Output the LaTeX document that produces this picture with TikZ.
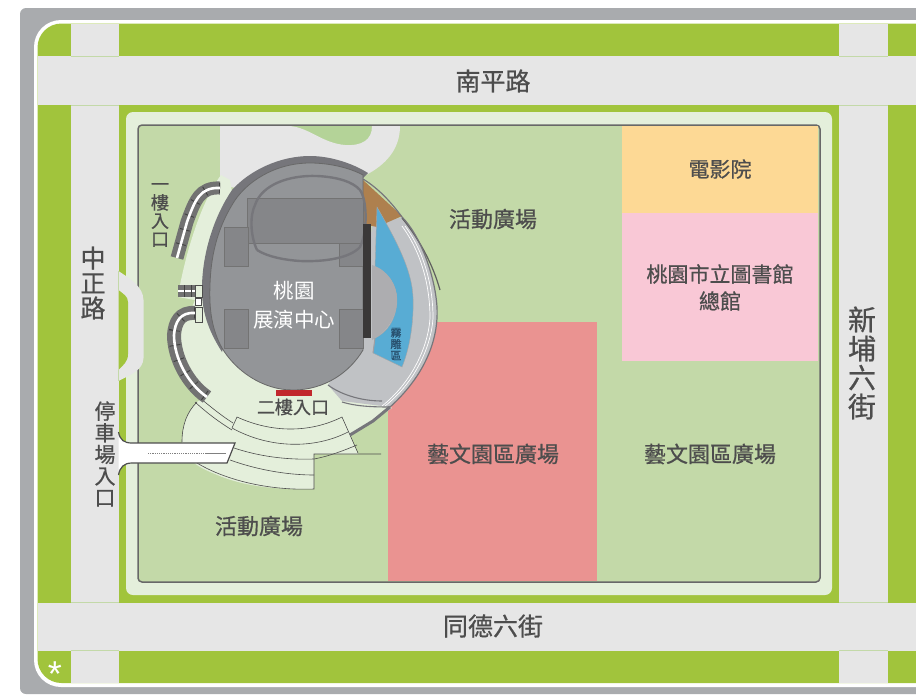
\documentclass[tikz,border=0pt]{standalone}
\usepackage{fontspec}
\setmainfont{Liberation Sans}
\newfontfamily\cjk[FakeBold=0.7]{Noto Sans CJK TC}
\newfontfamily\cjkw{Noto Sans CJK TC}
\definecolor{frame}{HTML}{A9ABAE}
\definecolor{grass}{HTML}{A1C43C}
\definecolor{road}{HTML}{E6E6E6}
\definecolor{site}{HTML}{E4EFDB}
\definecolor{lawn}{HTML}{C3D9A8}
\definecolor{lawndk}{HTML}{B4D398}
\definecolor{hall}{HTML}{939598}
\definecolor{halldk}{HTML}{76767B}
\definecolor{block}{HTML}{858689}
\definecolor{fan}{HTML}{C0C2C5}
\definecolor{labeltx}{HTML}{4D4D4D}
\definecolor{stairg}{HTML}{727272}
\definecolor{cinemac}{HTML}{FDD995}
\definecolor{libc}{HTML}{F9C8D6}
\definecolor{artc}{HTML}{EA9391}
\definecolor{brownc}{HTML}{AE804E}
\definecolor{bluec}{HTML}{58ACD4}
\definecolor{domec}{HTML}{ADADB0}
\definecolor{barc}{HTML}{3A3838}
\definecolor{redc}{HTML}{C1272D}
\definecolor{fogc}{HTML}{28506E}
\tikzset{
  x=1pt,y=-1pt,
  lbl/.style={font=\cjk\fontsize{#1}{#1}\selectfont,text=labeltx,inner sep=0pt,align=center},
  vlbl/.style 2 args={font=\cjk\fontsize{#1}{#2}\selectfont,text=labeltx,inner sep=0pt,align=center},
  wlbl/.style={font=\cjkw\fontsize{#1}{29}\selectfont,text=white,inner sep=0pt,align=center},
  thinarc/.style={draw=labeltx,line width=.6pt},
  stairband/.style={line width=#1,draw=stairg},
  stairtick/.style={line width=#1,draw=black!75,dash pattern=on .9pt off 14pt},
  stairmid/.style={line width=2.6pt,draw=white},
  blockbox/.style={fill=block,draw=gray!90!black,line width=.3pt},
  seam/.style={draw=lawn,line width=.5pt},
}
\begin{document}
\begin{tikzpicture}
\useasboundingbox (0,0) rectangle (916,694);
\clip (0,0) rectangle (916,694);
\fill[white] (0,0) rectangle (916,694);
% frame
\fill[frame,rounded corners=6pt] (20,8) rectangle (960,694);
\fill[white,rounded corners=27pt] (34,20) rectangle (980,687);
\fill[grass,rounded corners=24pt] (37.5,23.5) rectangle (980,683);
% roads
\fill[road] (70.5,23.5) rectangle (118.5,683);
\fill[road] (839,23.5) rectangle (888,683);
\fill[road] (37.5,56) rectangle (916,105);
\fill[road] (37.5,602.5) rectangle (916,650.5);
\draw[seam] (70.5,56) -- (118.5,56) (70.5,105) -- (118.5,105) (70.5,602.5) -- (118.5,602.5) (70.5,650.5) -- (118.5,650.5);
\draw[seam] (839,56) -- (888,56) (839,105) -- (888,105) (839,602.5) -- (888,602.5) (839,650.5) -- (888,650.5);
% site
\fill[site,rounded corners=7pt] (126,112) rectangle (832,595);
\filldraw[fill=lawn,draw=labeltx!85,line width=1.5pt,rounded corners=4pt] (138,125) rectangle (820,582);
% road bulge
\fill[road] (118.5,271) .. controls (132,280) and (143,287) .. (143.5,300) -- (143.5,358)
  .. controls (143,370) and (132,374) .. (118.5,381) -- cycle;
\fill[grass] (118.5,290) .. controls (123,294) and (128,296) .. (128,302) -- (128,354)
  .. controls (128,362) and (123,365) .. (118.5,370) -- cycle;
\draw[seam] (118.5,271) -- (118.5,290) (118.5,370) -- (118.5,381);
% coloured blocks
\fill[cinemac] (622,126) rectangle (818,213);
\fill[libc] (622,213) rectangle (818,361);
\fill[artc] (388,322) rectangle (597,581);
% driveway court
\fill[lawndk] (290,126) rectangle (373,150);
\fill[road] (220,126) -- (290,126) .. controls (310,128) and (322,143) .. (345,145)
  .. controls (362,146) and (372,140) .. (372,126) -- (400,126)
  .. controls (400,150) and (385,165) .. (366,175) -- (300,200) -- (220,185) -- cycle;
% plaza
\fill[site] (221,175) .. controls (206,195) and (190,235) .. (180,285) -- (178,297) -- (195,300)
  -- (190,312) .. controls (175,325) and (172,355) .. (205,397) -- (197,402)
  .. controls (187,412) and (182,425) .. (182,442) -- (182,450)
  .. controls (190,462) and (200,468) .. (215,474) .. controls (240,485) and (270,490) .. (314,489)
  -- (314,454) -- (358,454) -- (350,435) -- (392,408) -- (340,370) -- (250,300) -- (230,180) -- cycle;
% thin outline of the plaza
\draw[thinarc] (197,402) .. controls (187,412) and (182,425) .. (182,442);
\draw[thinarc] (197,463) .. controls (220,477) and (262,491) .. (314,489) -- (314,454) -- (381,454);
\draw[thinarc] (200,398) .. controls (212,408) and (222,416) .. (233,423);
\draw[thinarc] (195,402) .. controls (207,413) and (219,422) .. (232,430);
\draw[thinarc] (232,428) -- (237,417) .. controls (272,433) and (310,433) .. (342,417) -- (358,453);
\draw[thinarc] (232,428) .. controls (270,449) and (315,449) .. (348,432);
\draw[thinarc] (234,448) .. controls (258,456) and (285,460) .. (314,459) .. controls (330,456) and (345,450) .. (357,445);
\draw[thinarc] (230,460) .. controls (255,469) and (285,475) .. (314,475);
% fan behind the hall
\fill[fan] (372,226) -- (402,217) .. controls (420,235) and (435,275) .. (437,307)
  .. controls (439,345) and (420,380) .. (390,407) -- (342,401) -- (328,385) -- (355,340) -- (363,300) -- cycle;
\draw[white,line width=.7pt] (405,226) .. controls (424,252) and (433,285) .. (433,318) .. controls (431,350) and (412,385) .. (385,406);
\draw[white,line width=.7pt] (402,226) .. controls (421,252) and (430,285) .. (430,318) .. controls (428,350) and (409,385) .. (382,406);
\fill[brownc] (363,180) -- (402,216) -- (377,227) -- (363,224) -- cycle;
% blue zone
\filldraw[fill=bluec,draw=gray!70,line width=.4pt]
  (377,207) .. controls (396,240) and (412,270) .. (413,297) .. controls (414,325) and (409,350) .. (402,367)
  -- (373,353) -- (375,338) .. controls (392,330) and (397,312) .. (397,300)
  .. controls (397,285) and (388,272) .. (375,267) -- cycle;
\fill[domec] (372,265) .. controls (388,270) and (397,285) .. (397,300)
  .. controls (397,315) and (388,332) .. (372,340) -- cycle;
\draw[halldk!70,line width=1pt] (375,338) -- (373,353);
% outer arcs of the fan
\draw[labeltx!90,line width=1.2pt] (402,218) .. controls (420,240) and (433,265) .. (440,290);
\draw[halldk,line width=1.2pt] (363,179) .. controls (378,188) and (391,202) .. (402,217)
  .. controls (420,235) and (435,275) .. (437,307)
  .. controls (439,345) and (420,380) .. (390,407);
\draw[halldk,line width=3pt] (390,407) -- (373,421) -- (350,435);
\draw[halldk,line width=1.1pt] (342,402) .. controls (355,406) and (370,407) .. (390,407);
\draw[halldk,line width=1.1pt] (328,385) .. controls (340,394) and (360,401) .. (382,401);
% hall
\fill[halldk] (222,352) .. controls (208,330) and (201,310) .. (202,285) .. controls (203,250) and (215,215) .. (232,190)
  .. controls (250,170) and (280,156) .. (310,156) .. controls (330,156) and (352,163) .. (368,173) -- (363,178)
  -- (300,200) -- (235,300) -- cycle;
\filldraw[fill=hall,draw=labeltx!85,line width=.8pt]
  (363,175) -- (363,350) .. controls (350,372) and (325,390) .. (293,390)
  .. controls (262,390) and (235,370) .. (222,348) .. controls (212,330) and (209,310) .. (210,285)
  .. controls (211,250) and (220,225) .. (232,205) .. controls (245,182) and (275,163) .. (310,163)
  .. controls (330,163) and (350,168) .. (363,175) -- cycle;
\path[blockbox] (247,198) rectangle (363,243);
\path[blockbox] (224,227) rectangle (248,266);
\path[blockbox] (339,243) rectangle (363,266);
\path[blockbox] (224,309) rectangle (248,348);
\path[blockbox] (339,309) rectangle (363,348);
\draw[halldk,line width=2.4pt] (257,250) .. controls (250,235) and (250,215) .. (255,205)
  .. controls (262,184) and (290,175) .. (317,176) .. controls (338,177) and (353,182) .. (360,190)
  .. controls (367,200) and (368,230) .. (360,247) .. controls (350,258) and (325,262) .. (300,261)
  .. controls (285,260) and (268,257) .. (257,250);
\fill[barc] (363,224) rectangle (371,338);
\fill[redc] (276,390) rectangle (312,396);
% upper stairs
\path[stairband=13pt] (220,188) .. controls (200,187) and (195,200) .. (187,222) -- (177,258);
\path[stairtick=10pt] (220,188) .. controls (200,187) and (195,200) .. (187,222) -- (177,258);
\path[stairmid] (220,188) .. controls (200,187) and (195,200) .. (187,222) -- (177,258);
% lower stairs
\path[stairband=14pt] (195,313) .. controls (180,312) and (175,322) .. (174,335)
  .. controls (174,358) and (188,384) .. (207,397);
\path[stairtick=11pt] (195,313) .. controls (180,312) and (175,322) .. (174,335)
  .. controls (174,358) and (188,384) .. (207,397);
\path[stairmid] (195,313) .. controls (180,312) and (175,322) .. (174,335)
  .. controls (174,358) and (188,384) .. (207,397);
% short stairs and small boxes
\fill[stairg] (178,285) rectangle (195,297);
\draw[white,line width=1.2pt] (178,291) -- (195,291);
\draw[black!75,line width=.8pt] (184,285) -- (184,297) (191,285) -- (191,297);
\filldraw[fill=site,draw=labeltx,line width=.5pt] (195,285) rectangle (202,297);
\filldraw[fill=white,draw=labeltx,line width=.5pt] (195,298) rectangle (201,305);
\filldraw[fill=site,draw=labeltx,line width=.5pt] (195,307) rectangle (202,322);
% driveway
\fill[white] (118.5,432) .. controls (120,440) and (124,443) .. (132,443) -- (235,443) -- (227,463)
  -- (132,463) .. controls (124,463) and (120,467) .. (118.5,475) -- cycle;
\draw[labeltx,line width=1.2pt] (118.5,432) .. controls (120,440) and (124,443) .. (132,443) -- (235,443) -- (227,463)
  -- (132,463) .. controls (124,463) and (120,467) .. (118.5,475);
\draw[gray,line width=.9pt,dash pattern=on 1.2pt off 1pt] (148,453.5) -- (205,453.5);
\draw[gray,line width=1.2pt] (205,453.5) -- (226,453.5);
% labels
\node[lbl=25] (nanping) at (493,81) {南平路};
\node[lbl=25] (tongde) at (493,626) {同德六街};
\node[vlbl={25}{25}] (zhongzheng) at (93,283) {中\\正\\路};
\node[vlbl={28}{29}] (xinpu) at (862,363) {新\\埔\\六\\街};
\node[vlbl={21}{21.6}] (parking) at (105,454) {停\\車\\場\\入\\口};
\node[vlbl={18}{18.3}] (floor1) at (160,215) {一\\樓\\入\\口};
\node[lbl=22] (act1) at (493,219) {活動廣場};
\node[lbl=21] (cinema) at (720,169) {電影院};
\node[lbl=21] (library) at (720,274) {桃園市立圖書館};
\node[lbl=21] (library2) at (720,301) {總館};
\node[lbl=22] (art1) at (493,454) {藝文園區廣場};
\node[lbl=22] (art2) at (710,454) {藝文園區廣場};
\node[lbl=22] (act2) at (259,526) {活動廣場};
\node[lbl=18] (floor2) at (293,407) {二樓入口};
\node[wlbl=20.5] (hallname) at (294,305.5) {桃園\\展演中心};
\node[font=\cjk\fontsize{11}{11.5}\selectfont,text=fogc,inner sep=0pt,align=center] (fog) at (396,344) {霧\\雕\\區};
\node[font=\fontsize{36}{36}\selectfont,text=white,inner sep=0pt] (star) at (55,674) {*};
\end{tikzpicture}
\end{document}
